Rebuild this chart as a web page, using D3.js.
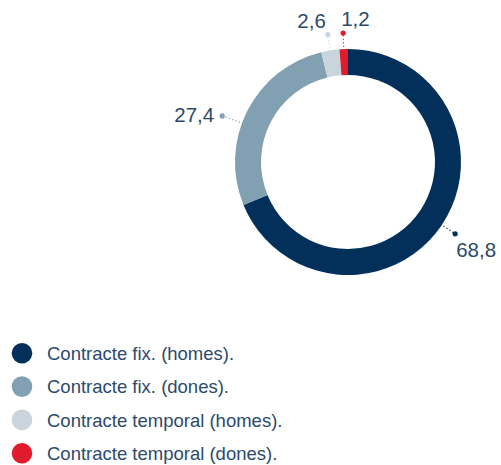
<!DOCTYPE html>
<html>
<head>
<meta charset="utf-8">
<script src="https://cdn.jsdelivr.net/npm/d3@7"></script>
<style>
  html, body { margin: 0; padding: 0; background: #ffffff; }
  svg { display: block; }
  text { font-family: "Liberation Sans", Arial, sans-serif; font-weight: 400; }
</style>
</head>
<body>
<svg id="chart" width="501" height="465"></svg>
<script>
// Distribution of contracts by type and gender (%)
const categories = [
  "Contracte fix. (homes).",
  "Contracte fix. (dones).",
  "Contracte temporal (homes).",
  "Contracte temporal (dones)."
];
const values = [68.8, 27.4, 2.6, 1.2];
const valueLabels = ["68,8", "27,4", "2,6", "1,2"];
const colors = ["#02305a", "#81a0b1", "#c9d4dc", "#e01b2b"];

const textColor = "#2c4a6a";
const svg = d3.select("#chart");

const cx = 348, cy = 162;
const outerR = 113, innerR = 87;
const dotR = 129;

const pie = d3.pie().sort(null).value(d => d)
  .startAngle(0).endAngle(2 * Math.PI);
const arcs = pie(values);

const arc = d3.arc().innerRadius(innerR).outerRadius(outerR);

const g = svg.append("g").attr("transform", `translate(${cx},${cy})`);

g.selectAll("path.slice")
  .data(arcs)
  .join("path")
  .attr("class", "slice")
  .attr("d", arc)
  .attr("fill", (d, i) => colors[i]);

// Leader lines and value labels
const polar = (a, r) => [r * Math.sin(a), -r * Math.cos(a)];

arcs.forEach((d, i) => {
  let a = (d.startAngle + d.endAngle) / 2;
  // the large left-hand slice gets its label pulled a little lower
  if (Math.sin(a) < -0.5) a -= 0.12;
  const rDot = Math.sin(a) < -0.5 ? dotR + 5 : dotR;
  const [x0, y0] = polar(a, outerR + 2);
  const [x1, y1] = polar(a, rDot);

  g.append("line")
    .attr("x1", x0).attr("y1", y0)
    .attr("x2", x1).attr("y2", y1)
    .attr("stroke", colors[i])
    .attr("stroke-width", 1.2)
    .attr("stroke-dasharray", "1.2,2.4");

  g.append("circle")
    .attr("cx", x1).attr("cy", y1).attr("r", 2.6)
    .attr("fill", colors[i]);

  const t = g.append("text")
    .attr("fill", textColor)
    .attr("font-size", 20.5)
    .text(valueLabels[i]);

  if (Math.cos(a) > 0.9) {
    // top labels sit above the dot
    const left = Math.sin(a) < -0.1;
    t.attr("x", x1 - 2)
     .attr("y", y1 - 7)
     .attr("text-anchor", left ? "end" : "start");
  } else if (Math.sin(a) < 0) {
    t.attr("x", x1 - 8).attr("y", y1 + 6).attr("text-anchor", "end");
  } else {
    t.attr("x", x1 + 1).attr("y", y1 + 23).attr("text-anchor", "start");
  }
});

// Legend
const legend = svg.append("g").attr("transform", "translate(22,353.3)");
const rows = legend.selectAll("g")
  .data(categories)
  .join("g")
  .attr("transform", (d, i) => `translate(0,${i * 33.3})`);

rows.append("circle")
  .attr("r", 10.3)
  .attr("fill", (d, i) => colors[i]);

rows.append("text")
  .attr("x", 25)
  .attr("y", 6.6)
  .attr("font-size", 18.5)
  .attr("fill", textColor)
  .text(d => d);
</script>
</body>
</html>
